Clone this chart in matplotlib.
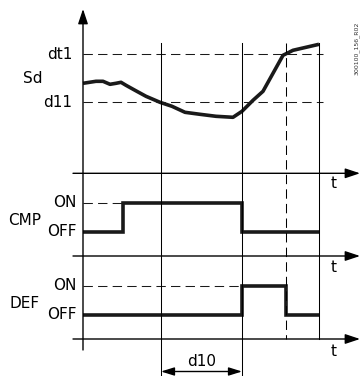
import numpy as np
import matplotlib
matplotlib.use('Agg')
import matplotlib.pyplot as plt

# time axis (origin at the Sd axis)
t_sd = [0, 13, 20, 27, 33, 38, 43, 52, 63, 77, 89, 102, 117, 133, 150, 159, 170, 180, 190, 200, 210, 236]
sd = [90, 92, 92, 89, 90, 91, 88, 83, 77, 71, 67, 61, 59, 57, 56, 62, 73, 82, 100, 118, 123, 129]
dt1 = 119
d11 = 71

t_cmp = [0, 40, 40, 159, 159, 236]
cmp_state = [0, 0, 1, 1, 0, 0]
t_def = [0, 159, 159, 203, 203, 236]
def_state = [0, 0, 1, 1, 0, 0]

t_marks = [78, 159, 203, 236]   # d10 start, defrost start, defrost end, end
d10_span = (78, 159)

W, H = 361, 376
X0 = 83                      # pixel of time origin
xlim = (-X0, W - X0)

fig = plt.figure(figsize=(W / 100, H / 100), dpi=100)
plt.rcParams['font.family'] = ['DejaVu Sans']

def panel(top, bottom):
    return fig.add_axes([0, 1 - bottom / H, 1, (bottom - top) / H])

ink = '#1a1a1a'
thick = 2.6
thin = 0.75
dash = (0, (9, 5))
fs = 11

# Sd panel
ax1 = panel(0, 173.3)
ax1.set_xlim(xlim)
ax1.set_ylim(0, 173.3)
ax1.axis('off')
ax1.plot(t_sd, sd, color=ink, lw=thick, solid_joinstyle='round', solid_capstyle='butt')
for lvl in (dt1, d11):
    ax1.plot([0, 240], [lvl, lvl], color=ink, lw=thin, ls=dash)
ax1.text(-11, dt1, 'dt1', ha='right', va='center', fontsize=fs)
ax1.text(-11, d11, 'd11', ha='right', va='center', fontsize=fs)
ax1.text(-50, 95, 'Sd', ha='center', va='center', fontsize=fs)

# CMP / DEF panels, state 0 = OFF, 1 = ON (29 px per step)
def state_panel(top, bottom, t, s, name, name_y):
    ax = panel(top, bottom)
    ax.set_xlim(xlim)
    h = bottom - top
    ax.set_ylim(-24.3 / 29, (h - 24.3) / 29)
    ax.axis('off')
    on_end = t[s.index(1)]
    ax.plot([0, on_end], [1, 1], color=ink, lw=thin, ls=dash)
    ax.plot(t, s, color=ink, lw=thick, solid_joinstyle='miter', solid_capstyle='butt')
    ax.text(-6, 1, 'ON', ha='right', va='center', fontsize=fs)
    ax.text(-6, 0, 'OFF', ha='right', va='center', fontsize=fs)
    ax.text(-58, name_y, name, ha='center', va='center', fontsize=fs)
    return ax

state_panel(173.3, 256, t_cmp, cmp_state, 'CMP', 0.4)
state_panel(256, 339, t_def, def_state, 'DEF', 0.4)

# overlay for axes, arrows, guide lines
ov = fig.add_axes([0, 0, 1, 1])
ov.set_xlim(xlim)
ov.set_ylim(H, 0)
ov.axis('off')
ov.patch.set_alpha(0)

arr = dict(arrowstyle='-|>,head_length=0.9,head_width=0.3', color='black', lw=1.0,
           shrinkA=0, shrinkB=0, mutation_scale=10)
ov.annotate('', xy=(0, 9), xytext=(0, 350), arrowprops=arr)
for y in (173.3, 256, 339):
    ov.annotate('', xy=(W - X0 - 1, y), xytext=(-10, y), arrowprops=arr)
for y in (184, 268, 351):
    ov.text(251, y, 't', ha='center', va='center', fontsize=fs)

ov.plot([t_marks[0]] * 2, [43, H], color='black', lw=thin)
ov.plot([t_marks[1]] * 2, [43, H], color='black', lw=thin)
ov.plot([t_marks[2]] * 2, [43, 339], color='black', lw=thin, ls=dash)
ov.plot([t_marks[3]] * 2, [43, 339], color='black', lw=thin)

arr2 = dict(arrowstyle='<|-|>,head_length=0.8,head_width=0.25', color='black', lw=1.0,
            shrinkA=0, shrinkB=0, mutation_scale=10)
ov.annotate('', xy=(d10_span[0], 371.5), xytext=(d10_span[1], 371.5), arrowprops=arr2)
ov.text(sum(d10_span) / 2, 361, 'd10', ha='center', va='center', fontsize=fs)

ov.text(357 - X0, 48, '300100_156_R02', rotation=90, ha='center', va='center',
        fontsize=4.5, color='#333333')

fig.savefig('out.png', dpi=100)
